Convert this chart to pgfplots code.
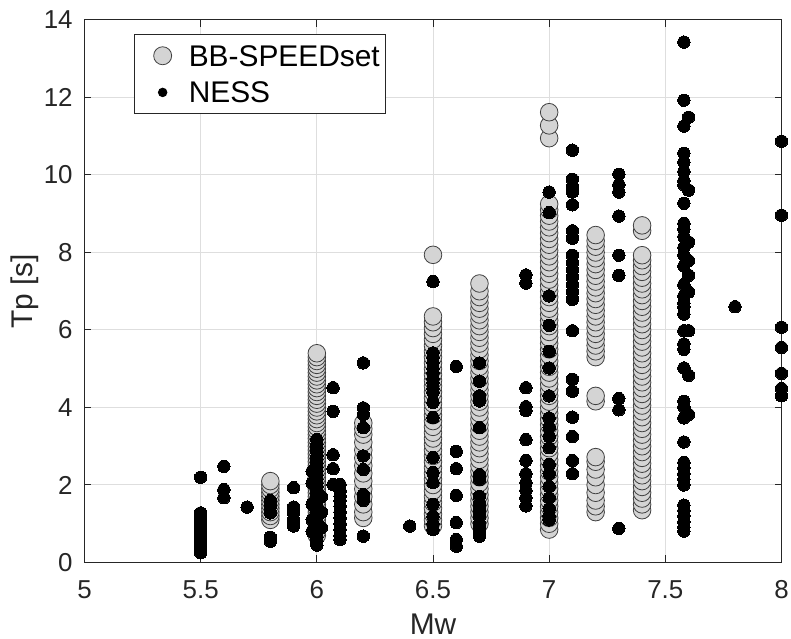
\documentclass[border=0pt]{standalone}
\usepackage{fontspec}
\setmainfont{Liberation Sans}
\usepackage{pgfplots}
\pgfplotsset{compat=1.18}
\definecolor{axgray}{gray}{0.15}
\definecolor{gridgray}{gray}{0.87}
\definecolor{bbfill}{gray}{0.83}
\definecolor{bbedge}{gray}{0.25}
\begin{document}
\begin{tikzpicture}
\path[use as bounding box] (-42.25bp,-38.25bp) rectangle (353.25bp,281.25bp);
\begin{axis}[
  at={(0,0)}, anchor=south west,
  scale only axis, width=348.5bp, height=271.25bp,
  xmin=5, xmax=8, ymin=0, ymax=14,
  xtick={5,5.5,6,6.5,7,7.5,8}, xticklabels={5,5.5,6,6.5,7,7.5,8},
  ytick={0,2,4,6,8,10,12,14}, yticklabels={0,2,4,6,8,10,12,14},
  /pgf/number format/assume math mode=true,
  tick align=inside, major tick length=3.5bp,
  tick style={axgray, line width=0.5bp},
  axis line style={axgray, line width=0.5bp},
  grid=major, grid style={gridgray, line width=0.5bp},
  clip=false,
  tick label style={font=\fontsize{13}{15}\selectfont, text=axgray},
  xticklabel style={anchor=base, yshift=-17.75bp},
  yticklabel style={anchor=east, inner sep=0pt, xshift=-5.75bp},
  xlabel={Mw}, ylabel={Tp [s]},
  xlabel style={at={(axis description cs:0.5,-0.1325)}, anchor=base, inner sep=0pt, font=\fontsize{15}{18}\selectfont, text=axgray},
  ylabel style={at={(axis description cs:-0.0854,0.5)}, anchor=center, font=\fontsize{15}{18}\selectfont, text=axgray},
  legend cell align=left,
  legend style={at={(axis description cs:0.0714,0.9736)}, anchor=north west,
    draw=axgray, line width=0.5bp, fill=white,
    inner xsep=3bp, inner ysep=5.25bp, row sep=7.9bp, column sep=6.8bp,
    nodes={inner sep=0pt, text depth=0pt, font=\fontsize{15}{18}\selectfont}},
]
\addplot[only marks, mark=*, mark size=4.4bp,
  mark options={fill=bbfill, draw=bbedge, line width=0.4bp},
  legend image code/.code={\path (-10.7bp,0pt) (6bp,0pt); \draw[fill=bbfill, draw=bbedge, line width=0.4bp] (0pt,0pt) circle[radius=4.5bp];}]
coordinates {
(5.8,1.1) (5.8,1.2) (5.8,1.3) (5.8,1.4) (5.8,1.5) (5.8,1.6) (5.8,1.7) (5.8,1.8) (5.8,1.9) (5.8,2.0) (5.8,2.1)
(6,0.7) (6,0.8) (6,0.9) (6,1.0) (6,1.1) (6,1.2) (6,1.3) (6,1.4) (6,1.5) (6,1.6) (6,1.7) (6,1.8) (6,1.9) (6,2.0)
(6,2.1) (6,2.2) (6,2.3) (6,2.4) (6,2.5) (6,2.6) (6,2.7) (6,2.8) (6,2.9) (6,3.0) (6,3.1) (6,3.2) (6,3.3) (6,3.4)
(6,3.5) (6,3.6) (6,3.7) (6,3.8) (6,3.9) (6,4.0) (6,4.1) (6,4.2) (6,4.3) (6,4.4) (6,4.5) (6,4.6) (6,4.7) (6,4.8)
(6,4.9) (6,5.0) (6,5.1) (6,5.2) (6,5.3) (6,5.4)
(6.2,1.15) (6.2,1.3) (6.2,1.5) (6.2,1.7) (6.2,1.9) (6.2,2.1) (6.2,2.3) (6.2,2.5) (6.2,2.7) (6.2,2.9) (6.2,3.1) (6.2,3.3) (6.2,3.45) (6.2,3.6)
(6.5,0.95) (6.5,1.1) (6.5,1.25) (6.5,1.4) (6.5,1.55) (6.5,1.7) (6.5,1.85) (6.5,2.0) (6.5,2.15) (6.5,2.3) (6.5,2.45) (6.5,2.6)
(6.5,2.75) (6.5,2.9) (6.5,3.05) (6.5,3.2) (6.5,3.35) (6.5,3.5) (6.5,3.65) (6.5,3.8) (6.5,3.95) (6.5,4.1) (6.5,4.25) (6.5,4.4)
(6.5,4.55) (6.5,4.7) (6.5,4.85) (6.5,5.0) (6.5,5.15) (6.5,5.3) (6.5,5.45) (6.5,5.6) (6.5,5.75) (6.5,5.9) (6.5,6.05) (6.5,6.2) (6.5,6.35) (6.5,7.94)
(6.7,1.0) (6.7,1.15) (6.7,1.3) (6.7,1.45) (6.7,1.6) (6.7,1.75) (6.7,1.9) (6.7,2.05) (6.7,2.2) (6.7,2.35) (6.7,2.5) (6.7,2.65)
(6.7,2.8) (6.7,2.95) (6.7,3.1) (6.7,3.25) (6.7,3.4) (6.7,3.55) (6.7,3.7) (6.7,3.85) (6.7,4.0) (6.7,4.15) (6.7,4.3) (6.7,4.45)
(6.7,4.6) (6.7,4.75) (6.7,4.9) (6.7,5.05) (6.7,5.2) (6.7,5.35) (6.7,5.5) (6.7,5.65) (6.7,5.8) (6.7,5.95) (6.7,6.1) (6.7,6.25)
(6.7,6.4) (6.7,6.55) (6.7,6.7) (6.7,6.85) (6.7,7.0) (6.7,7.2)
(7,0.85) (7,1.0) (7,1.15) (7,1.3) (7,1.45) (7,1.6) (7,1.75) (7,1.9) (7,2.05) (7,2.2) (7,2.35) (7,2.5) (7,2.65) (7,2.8)
(7,2.95) (7,3.1) (7,3.25) (7,3.4) (7,3.55) (7,3.7) (7,3.85) (7,4.0) (7,4.15) (7,4.3) (7,4.45) (7,4.6) (7,4.75) (7,4.9)
(7,5.05) (7,5.2) (7,5.35) (7,5.5) (7,5.65) (7,5.8) (7,5.95) (7,6.1) (7,6.25) (7,6.4) (7,6.55) (7,6.7) (7,6.85) (7,7.0)
(7,7.15) (7,7.3) (7,7.45) (7,7.6) (7,7.75) (7,7.9) (7,8.05) (7,8.2) (7,8.35) (7,8.5) (7,8.65) (7,8.8) (7,8.95) (7,9.1)
(7,9.25) (7,10.95) (7,11.28) (7,11.62)
(7.2,1.3) (7.2,1.45) (7.2,1.6) (7.2,1.8) (7.2,2.0) (7.2,2.2) (7.2,2.4) (7.2,2.6) (7.2,2.72) (7.2,4.16) (7.2,4.3)
(7.2,5.3) (7.2,5.45) (7.2,5.6) (7.2,5.75) (7.2,5.9) (7.2,6.05) (7.2,6.2) (7.2,6.35) (7.2,6.5) (7.2,6.65) (7.2,6.8)
(7.2,6.95) (7.2,7.1) (7.2,7.25) (7.2,7.4) (7.2,7.55) (7.2,7.7) (7.2,7.85) (7.2,8.0) (7.2,8.15) (7.2,8.3) (7.2,8.45)
(7.4,1.35) (7.4,1.5) (7.4,1.65) (7.4,1.8) (7.4,1.95) (7.4,2.1) (7.4,2.25) (7.4,2.4) (7.4,2.55) (7.4,2.7) (7.4,2.85) (7.4,3.0)
(7.4,3.15) (7.4,3.3) (7.4,3.45) (7.4,3.6) (7.4,3.75) (7.4,3.9) (7.4,4.05) (7.4,4.2) (7.4,4.35) (7.4,4.5) (7.4,4.65) (7.4,4.8)
(7.4,4.95) (7.4,5.1) (7.4,5.25) (7.4,5.4) (7.4,5.55) (7.4,5.7) (7.4,5.85) (7.4,6.0) (7.4,6.15) (7.4,6.3) (7.4,6.45) (7.4,6.6)
(7.4,6.75) (7.4,6.9) (7.4,7.05) (7.4,7.2) (7.4,7.35) (7.4,7.5) (7.4,7.65) (7.4,7.8) (7.4,7.93) (7.4,8.56) (7.4,8.7)
};
\addlegendentry{BB-SPEEDset}
\addplot[only marks, mark=*, mark size=3.1bp,
  mark options={fill=black, draw=black, line width=0pt},
  legend image code/.code={\path (-10.7bp,0pt) (6bp,0pt); \fill[black] (0pt,0pt) circle[radius=2.1bp];}]
coordinates {
(5.5,0.25) (5.5,0.35) (5.5,0.45) (5.5,0.55) (5.5,0.65) (5.5,0.75) (5.5,0.85) (5.5,0.95) (5.5,1.05) (5.5,1.15) (5.5,1.28) (5.5,2.2)
(5.6,1.67) (5.6,1.88) (5.6,2.48) (5.7,1.43)
(5.8,0.55) (5.8,0.65) (5.8,1.28) (5.8,1.45) (5.8,1.6)
(5.9,0.94) (5.9,1.1) (5.9,1.28) (5.9,1.43) (5.9,1.93)
(6,0.45) (6,0.55) (6,0.65) (6,0.75) (6,0.85) (6,0.95) (6,1.05) (6,1.15) (6,1.25) (6,1.35) (6,1.45) (6,1.55) (6,1.65) (6,1.75)
(6,1.85) (6,1.95) (6,2.05) (6,2.15) (6,2.25) (6,2.35) (6,2.45) (6,2.55) (6,2.65) (6,2.75) (6,2.85) (6,2.95) (6,3.05) (6,3.17)
(5.98,1.5) (5.98,2.05) (5.98,2.35) (5.98,0.8) (5.98,1.1) (6.02,0.9) (6.02,1.3) (6.02,1.7)
(6.07,2.01) (6.07,2.42) (6.07,2.78) (6.07,3.9) (6.07,4.51)
(6.1,0.59) (6.1,0.7) (6.1,0.85) (6.1,1.0) (6.1,1.15) (6.1,1.3) (6.1,1.45) (6.1,1.6) (6.1,1.71) (6.1,1.85) (6.1,2.01)
(6.2,0.68) (6.2,1.6) (6.2,1.75) (6.2,2.4) (6.2,2.75) (6.2,3.48) (6.2,3.82) (6.2,3.99) (6.2,5.15)
(6.4,0.94)
(6.5,0.85) (6.5,1.0) (6.5,1.19) (6.5,1.5) (6.5,2.06) (6.5,2.32) (6.5,2.71) (6.5,3.74) (6.5,4.13) (6.5,4.39) (6.5,4.5)
(6.5,4.64) (6.5,4.75) (6.5,4.9) (6.5,5.0) (6.5,5.15) (6.5,5.3) (6.5,5.41) (6.5,7.25)
(6.6,0.42) (6.6,0.59) (6.6,1.03) (6.6,1.73) (6.6,2.42) (6.6,2.87) (6.6,5.06)
(6.7,0.68) (6.7,0.85) (6.7,1.0) (6.7,1.19) (6.7,1.35) (6.7,1.5) (6.7,1.71) (6.7,2.14) (6.7,2.27) (6.7,3.48) (6.7,4.17) (6.7,4.3) (6.7,4.68) (6.7,5.15)
(6.9,1.46) (6.9,1.67) (6.9,1.86) (6.9,2.06) (6.9,2.29) (6.9,2.63) (6.9,3.17) (6.9,3.92) (6.9,4.02) (6.9,4.51) (6.9,7.21) (6.9,7.42)
(7,1.1) (7,1.2) (7,1.39) (7,1.67) (7,1.96) (7,2.29) (7,2.53) (7,2.96) (7,3.25) (7,3.49) (7,3.73) (7,4.3) (7,5.02) (7,5.45)
(7,6.12) (7,6.88) (7,9.03) (7,9.56)
(7.1,2.29) (7.1,2.63) (7.1,3.25) (7.1,3.75) (7.1,4.42) (7.1,4.73) (7.1,5.98) (7.1,6.79) (7.1,6.98) (7.1,7.17) (7.1,7.36)
(7.1,7.55) (7.1,7.74) (7.1,7.93) (7.1,8.37) (7.1,8.56) (7.1,9.23) (7.1,9.56) (7.1,9.7) (7.1,9.89) (7.1,10.64)
(7.3,0.88) (7.3,3.94) (7.3,4.23) (7.3,7.41) (7.3,7.93) (7.3,8.94) (7.3,9.56) (7.3,9.75) (7.3,10.02)
(7.58,13.43) (7.58,11.93) (7.6,11.49) (7.58,11.26) (7.58,10.56) (7.58,10.33) (7.58,10.09) (7.58,9.85) (7.6,9.61) (7.58,9.75)
(7.58,9.27) (7.58,8.75) (7.58,8.6) (7.58,8.41) (7.6,8.27) (7.58,8.13) (7.58,7.93) (7.6,7.79) (7.58,7.65) (7.6,7.41)
(7.58,7.17) (7.6,6.98) (7.58,6.88) (7.58,6.69) (7.58,6.6) (7.58,6.41) (7.58,5.98) (7.6,5.98) (7.58,5.64) (7.58,5.5)
(7.58,5.02) (7.6,4.83) (7.58,4.16) (7.58,4.02) (7.6,3.82) (7.58,3.73) (7.58,3.11) (7.58,2.58) (7.58,2.44) (7.58,2.29)
(7.58,2.15) (7.58,2.0) (7.58,1.48) (7.58,1.34) (7.58,1.2) (7.58,1.05) (7.58,0.91) (7.58,0.81)
(7.8,6.6)
(8,4.3) (8,4.49) (8,4.88) (8,5.55) (8,6.07) (8,8.96) (8,10.87)
};
\addlegendentry{NESS}
\end{axis}
\end{tikzpicture}
\end{document}
